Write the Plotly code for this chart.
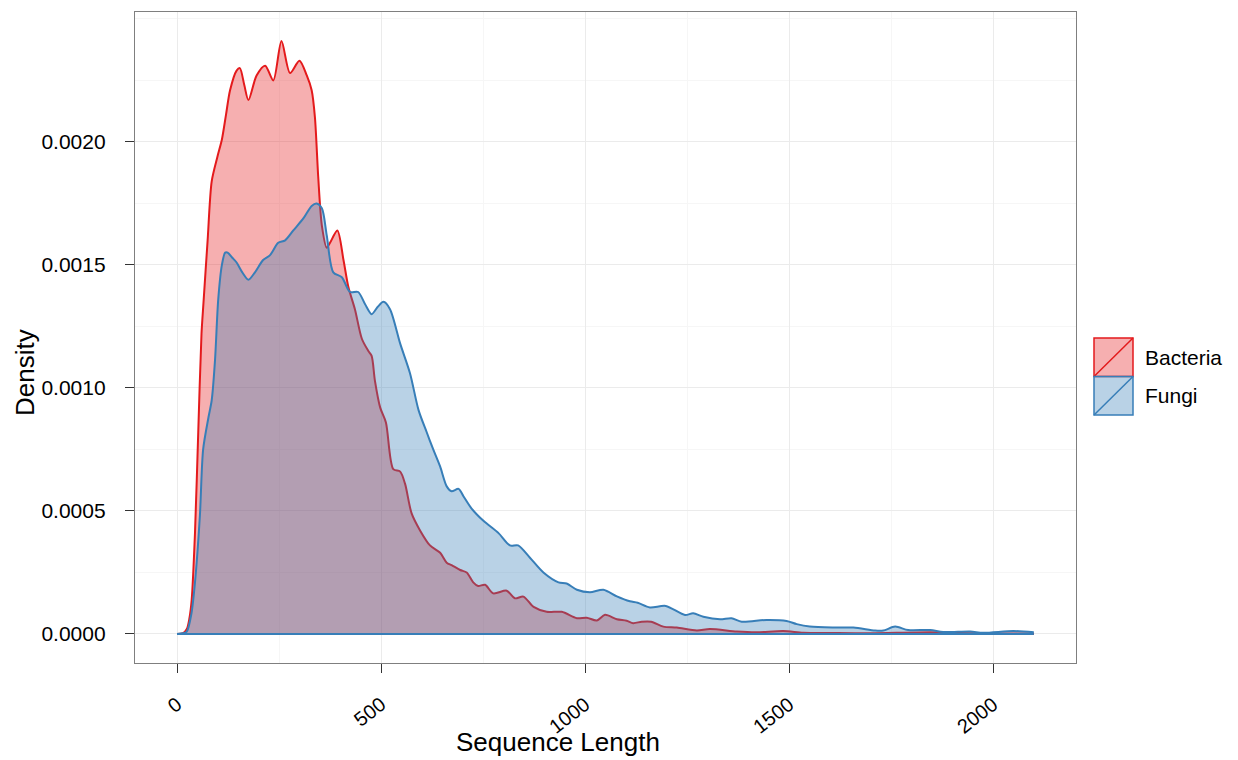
import plotly.graph_objects as go

# Kernel density estimates of sequence length, read per group
bacteria_len = [0, 15, 24, 30, 36, 44, 52, 60, 65, 75, 85, 99, 110, 120, 130, 146, 154, 165, 175,
                195, 216, 236, 256, 277, 300, 318, 330, 338, 346, 355, 367, 375, 393, 408, 420,
                436, 453, 469, 477, 485, 498, 512, 530, 547, 559, 575, 596, 620, 645, 661, 673,
                694, 710, 726, 738, 755, 775, 808, 828, 849, 874, 906, 943, 980, 1004, 1029,
                1049, 1078, 1102, 1118, 1139, 1162, 1192, 1225, 1274, 1306, 1372, 1421, 1486,
                1535, 1600, 1700, 1846, 1950, 2100]
bacteria_density = [0, 0.000003, 0.00002, 0.00006, 0.00014, 0.00041, 0.00082, 0.00122, 0.00135,
                    0.0016, 0.00184, 0.00194, 0.00201, 0.00211, 0.00221, 0.00229, 0.0023, 0.00223,
                    0.00217, 0.00227, 0.00231, 0.00225, 0.00241, 0.00228, 0.00233, 0.00227,
                    0.00221, 0.0021, 0.00186, 0.00166, 0.00157, 0.00159, 0.00164, 0.00152,
                    0.00141, 0.00132, 0.0012, 0.00115, 0.00113, 0.00103, 0.00092, 0.00086,
                    0.00067, 0.00066, 0.00061, 0.00049, 0.00042, 0.00036, 0.00033, 0.00029,
                    0.00028, 0.00026, 0.00025, 0.00021, 0.000195, 0.0002, 0.000165, 0.000176,
                    0.000145, 0.000152, 0.00011, 0.00009, 0.00009, 0.000064, 0.000066, 0.000055,
                    0.000078, 0.00006, 0.000054, 0.000044, 0.00005, 0.00005, 0.00003, 0.000026,
                    0.000014, 0.00002, 0.00001, 0.000007, 0.000012, 0.000005, 0.000004,
                    0.000003, 0.000007, 0.000003, 0.000002]

fungi_len = [0, 15, 24, 35, 44, 56, 64, 77, 85, 93, 101, 110, 118, 124, 135, 146, 160, 175, 191,
             211, 228, 248, 265, 285, 310, 330, 342, 355, 367, 383, 404, 424, 444, 461, 477, 492,
             506, 522, 547, 571, 592, 612, 628, 645, 661, 673, 690, 702, 722, 751, 788, 816, 836,
             865, 898, 935, 955, 980, 1012, 1045, 1078, 1110, 1129, 1159, 1198, 1245, 1265,
             1290, 1331, 1359, 1384, 1445, 1494, 1519, 1551, 1608, 1658, 1711, 1731, 1760,
             1792, 1846, 1878, 1944, 1976, 2050, 2100]
fungi_density = [0, 0.000003, 0.00001, 0.00008, 0.00021, 0.00048, 0.00075, 0.00088, 0.00095,
                 0.00111, 0.00136, 0.0015, 0.00155, 0.00155, 0.00153, 0.00151, 0.00147, 0.00144,
                 0.00147, 0.00152, 0.00154, 0.00159, 0.0016, 0.00164, 0.00169, 0.00174, 0.00175,
                 0.00173, 0.00162, 0.00147, 0.00145, 0.00139, 0.00139, 0.00134, 0.0013, 0.00133,
                 0.00135, 0.00132, 0.00118, 0.00106, 0.00091, 0.00082, 0.00075, 0.00068, 0.0006,
                 0.00058, 0.00059, 0.00056, 0.00051, 0.00046, 0.00041, 0.00036, 0.00036, 0.00031,
                 0.00025, 0.00021, 0.000205, 0.00018, 0.00017, 0.00018, 0.000153, 0.000133,
                 0.000127, 0.000108, 0.000114, 0.000077, 0.000084, 0.00007, 0.00006, 0.000064,
                 0.00005, 0.000057, 0.000053, 0.00004, 0.00003, 0.000026, 0.000026, 0.000014,
                 0.000014, 0.00003, 0.000016, 0.000016, 0.000008, 0.00001, 0.000005, 0.000012,
                 0.000007]

groups = ["Bacteria", "Fungi"]
line_colors = ["#e41a1c", "#377eb8"]
fill_colors = ["rgba(228,26,28,0.35)", "rgba(55,126,184,0.35)"]

x_ticks = [0, 500, 1000, 1500, 2000]
y_ticks = [0.0, 0.0005, 0.0010, 0.0015, 0.0020]

FONT = "Liberation Sans, Arial, Helvetica, sans-serif"

fig = go.Figure()
series = [(bacteria_len, bacteria_density), (fungi_len, fungi_density)]
for name, (xs, ys), lc, fc in zip(groups, series, line_colors, fill_colors):
    fig.add_trace(go.Scatter(
        x=xs, y=ys, name=name, mode="lines",
        line=dict(color=lc, width=2, shape="spline", smoothing=0.8),
        fill="tozeroy", fillcolor=fc, showlegend=False, hoverinfo="skip",
    ))
    # baseline of the density outline
    fig.add_trace(go.Scatter(
        x=[xs[0], xs[-1]], y=[0, 0], mode="lines",
        line=dict(color=lc, width=2), showlegend=False, hoverinfo="skip",
    ))

# Plot panel in pixels: left 135, right 1076, top 12, bottom 663
W, H = 1238, 760
L, R, T, B = 135, 1076, 12, 663


def px_x(p):
    return (p - L) / (R - L)


def px_y(p):
    return (B - p) / (B - T)


shapes = []
annotations = []
# legend keys: filled square with diagonal stroke
for i, (name, lc, fc) in enumerate(zip(groups, line_colors, fill_colors)):
    top = 338 + i * 38.5
    bot = top + 38.5
    shapes.append(dict(type="rect", xref="paper", yref="paper",
                       x0=px_x(1094), x1=px_x(1133), y0=px_y(bot), y1=px_y(top),
                       fillcolor=fc, line=dict(color=lc, width=1.5)))
    shapes.append(dict(type="line", xref="paper", yref="paper",
                       x0=px_x(1094), x1=px_x(1133), y0=px_y(bot), y1=px_y(top),
                       line=dict(color=lc, width=1.5)))
    annotations.append(dict(text=name, xref="paper", yref="paper",
                            x=px_x(1143), y=px_y((top + bot) / 2),
                            xanchor="left", yanchor="middle", showarrow=False,
                            font=dict(family=FONT, size=21, color="#000000")))

annotations.append(dict(text="Sequence Length", xref="paper", yref="paper",
                        x=px_x(558), y=px_y(742), xanchor="center", yanchor="middle",
                        showarrow=False, font=dict(family=FONT, size=26, color="#000000")))
annotations.append(dict(text="Density", xref="paper", yref="paper",
                        x=px_x(25), y=px_y(373), xanchor="center", yanchor="middle",
                        textangle=-90, showarrow=False,
                        font=dict(family=FONT, size=26, color="#000000")))

fig.update_layout(
    width=W, height=H,
    margin=dict(l=L, r=W - R, t=T, b=H - B, autoexpand=False),
    paper_bgcolor="white", plot_bgcolor="white",
    font=dict(family=FONT, color="#000000"),
    shapes=shapes, annotations=annotations,
    showlegend=False,
)

x0 = -103
x1 = 2203.4
y0 = -0.0001179
y1 = 0.002528

fig.update_xaxes(
    range=[x0, x1], tickvals=x_ticks, ticktext=[str(v) for v in x_ticks],
    tickangle=-38, ticks="outside", ticklen=9, tickwidth=1, tickcolor="#333333",
    tickfont=dict(family=FONT, size=20, color="#000000"), ticklabelstandoff=12,
    showgrid=True, gridcolor="#ebebeb", gridwidth=1.3,
    minor=dict(dtick=250, tick0=0, showgrid=True, gridcolor="#f6f6f6", gridwidth=1),
    showline=True, mirror=True, linecolor="#7f7f7f", linewidth=1.3,
    zeroline=False, automargin=False,
)
fig.update_yaxes(
    range=[y0, y1], tickvals=y_ticks, ticktext=[f"{v:.4f}" for v in y_ticks],
    ticks="outside", ticklen=9, tickwidth=1, tickcolor="#333333",
    tickfont=dict(family=FONT, size=21, color="#000000"), ticklabelstandoff=15,
    showgrid=True, gridcolor="#ebebeb", gridwidth=1.3,
    minor=dict(dtick=0.00025, tick0=0, showgrid=True, gridcolor="#f6f6f6", gridwidth=1),
    showline=True, mirror=True, linecolor="#7f7f7f", linewidth=1.3,
    zeroline=False, automargin=False,
)

fig.write_html("out.html")
